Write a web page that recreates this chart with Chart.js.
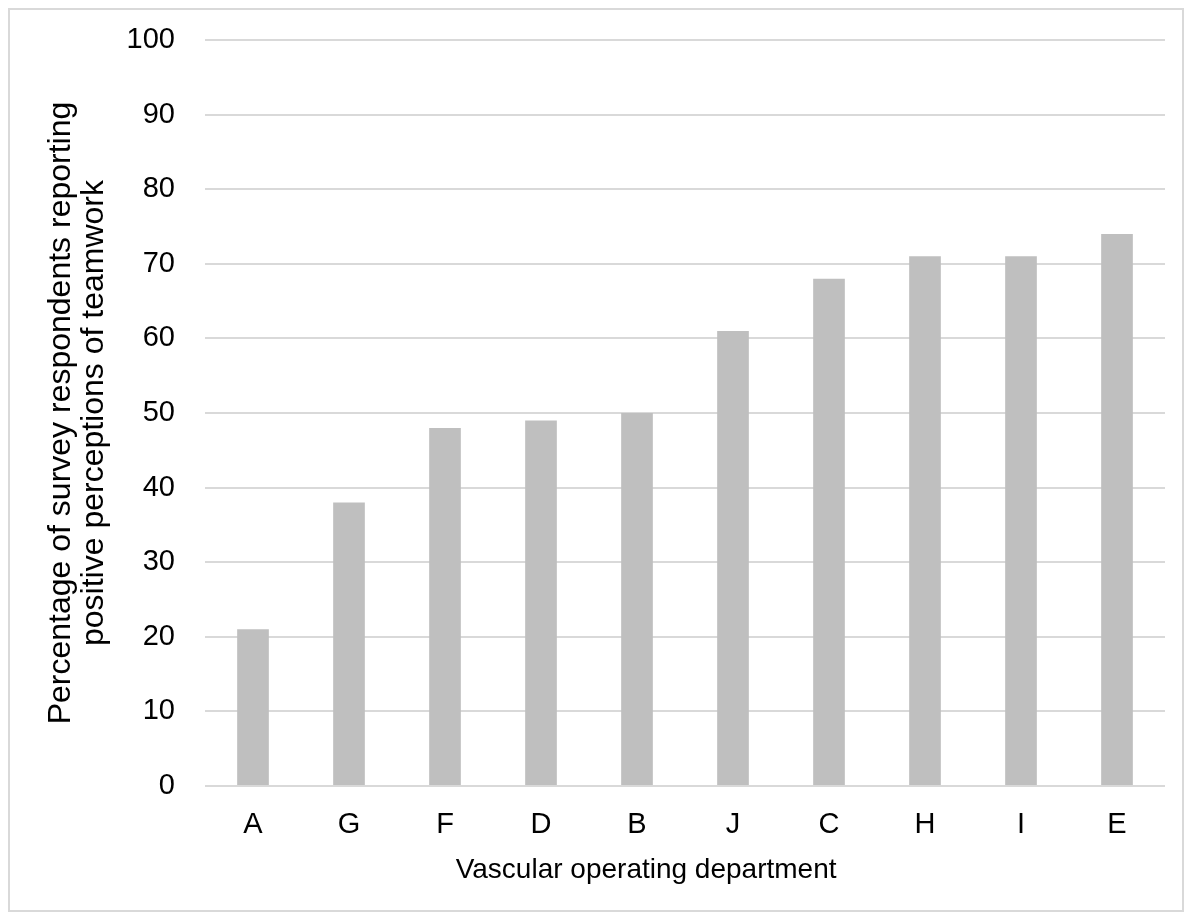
<!DOCTYPE html>
<html>
<head>
<meta charset="utf-8">
<script src="https://cdn.jsdelivr.net/npm/chart.js@4"></script>
<style>
    html, body { margin: 0; padding: 0; background: #fff; }
    .frame { position: absolute; left: 8px; top: 8px; width: 1172px; height: 900px; border: 2px solid #d9d9d9; }
    .rtb-chart { position: absolute; left: 0; top: 0; width: 1185px; height: 913px; }
</style>
</head>
<body>
<div class="frame"></div>
<div class="rtb-chart"><canvas></canvas></div>
<script>

// departments, sorted as in the figure
const departments = [ 'A', 'G', 'F', 'D', 'B', 'J', 'C', 'H', 'I', 'E' ];

// percentage reporting positive perceptions of teamwork
const positive = [ 21, 38, 48, 49, 50, 61, 68, 71, 71, 74 ];

const y_title = [ 'Percentage of survey respondents reporting', 'positive perceptions of teamwork' ];
// trailing nbsp pulls the centred title a bit left, as in the figure
const x_title = 'Vascular operating department' + '\u00a0'.repeat( 10 );

const font = 'Liberation Sans, Arial, sans-serif';

document.addEventListener( 'DOMContentLoaded', () => {

    let ctx = document.querySelector( '.rtb-chart canvas' ).getContext( '2d' );

    new Chart( ctx, {
        type: 'bar',
        data: {
            labels: departments,
            datasets: [ {
                data: positive,
                backgroundColor: '#bfbfbf',
                borderWidth: 0,
                categoryPercentage: 1,
                barPercentage: 0.33
            } ]
        },
        options: {
            responsive: true,
            maintainAspectRatio: false,
            animation: false,
            layout: {
                padding: { top: 40, right: 20, bottom: 26, left: 45 }
            },
            plugins: {
                legend: { display: false },
                tooltip: { enabled: false }
            },
            scales: {
                x: {
                    border: { display: false },
                    grid: { display: false },
                    ticks: {
                        padding: 14,
                        color: '#000',
                        font: { family: font, size: 29 }
                    },
                    title: {
                        display: true,
                        text: x_title,
                        color: '#000',
                        padding: 0,
                        font: { family: font, size: 28 }
                    },
                    afterFit: ( scale ) => {
                        scale.height = 101;
                        scale.paddingLeft = 0;
                        scale.paddingRight = 0;
                    }
                },
                y: {
                    min: 0,
                    max: 100,
                    border: { display: false },
                    grid: {
                        color: '#d9d9d9',
                        lineWidth: 2,
                        drawTicks: false
                    },
                    ticks: {
                        stepSize: 10,
                        padding: 30,
                        color: '#000',
                        font: { family: font, size: 29 }
                    },
                    title: {
                        display: true,
                        text: y_title,
                        color: '#000',
                        padding: 0,
                        font: { family: font, size: 32, lineHeight: 1.03 }
                    },
                    afterFit: ( scale ) => {
                        scale.width = 160;
                        scale.paddingTop = 0;
                        scale.paddingBottom = 0;
                    }
                }
            }
        }
    } );

} );
</script>
</body>
</html>
